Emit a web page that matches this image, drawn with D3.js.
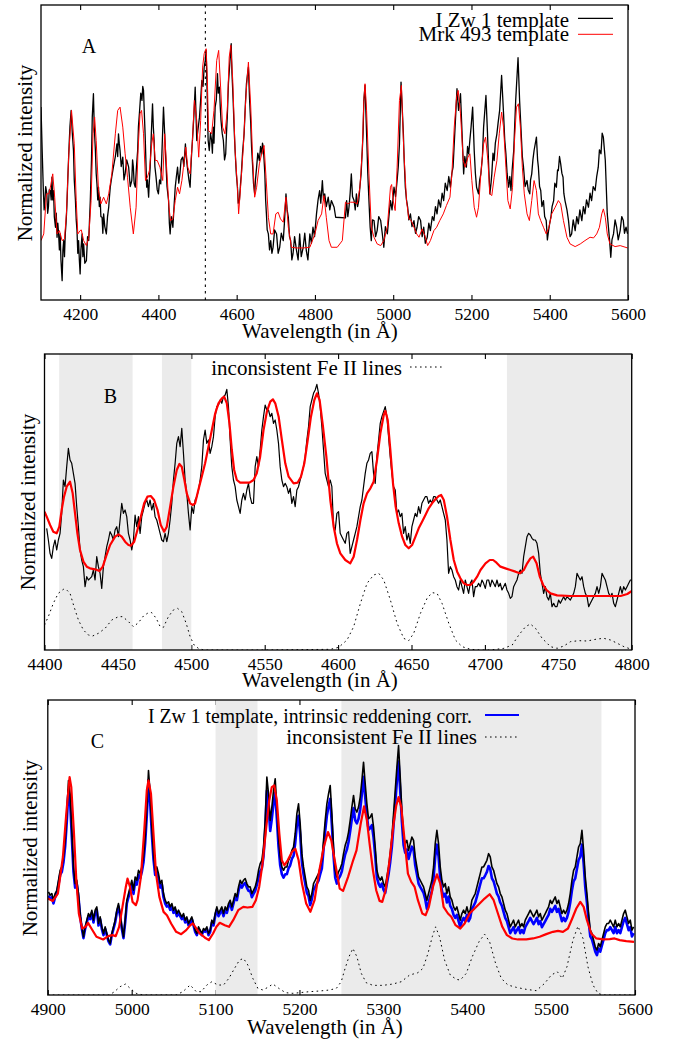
<!DOCTYPE html>
<html>
<head>
<meta charset="utf-8">
<script src="https://cdn.jsdelivr.net/npm/d3@7"></script>
<style>
  html, body { margin: 0; padding: 0; background: #fff; }
  svg { display: block; }
</style>
</head>
<body>
<script>
// ---------------------------------------------------------------------------
// Fe II template comparison, three panels (A, B, C).
// Fluxes are normalized intensities in arbitrary units (0 = panel floor).
// ---------------------------------------------------------------------------

// Panel A: 4100-5600 A, I Zw 1 and Mrk 493 templates  [wavelength, flux]
const izw1A = [[4100,578],[4103,448],[4106,328],[4108,270],[4110,298],[4112,340],[4115,318],[4117,260],[4119,278],[4121,330],[4124,328],[4126,300],[4128,368],[4130,300],[4132,328],[4134,250],[4137,218],[4139,260],[4141,188],[4143,230],[4145,198],[4147,150],[4149,198],[4151,120],[4154,58],[4156,150],[4158,178],[4160,130],[4162,198],[4164,230],[4166,278],[4169,380],[4172,468],[4174,520],[4177,568],[4180,500],[4183,448],[4185,360],[4188,298],[4190,240],[4192,208],[4194,140],[4196,178],[4198,120],[4200,78],[4202,150],[4205,198],[4207,130],[4209,168],[4212,110],[4216,118],[4219,190],[4222,178],[4224,240],[4226,298],[4229,420],[4231,548],[4234,618],[4236,520],[4239,448],[4241,380],[4243,348],[4245,300],[4247,338],[4249,280],[4251,308],[4253,250],[4256,248],[4258,200],[4260,258],[4263,220],[4267,198],[4270,250],[4273,278],[4275,310],[4277,338],[4281,370],[4285,398],[4290,430],[4294,468],[4296,430],[4298,498],[4300,470],[4302,448],[4305,400],[4309,428],[4312,360],[4315,378],[4319,420],[4324,398],[4328,340],[4332,358],[4334,420],[4336,398],[4338,350],[4341,338],[4344,400],[4347,448],[4349,520],[4352,568],[4355,620],[4358,598],[4360,640],[4362,628],[4364,560],[4366,498],[4368,420],[4370,338],[4372,360],[4375,308],[4377,360],[4379,398],[4382,500],[4385,588],[4387,520],[4389,478],[4391,400],[4394,368],[4397,330],[4400,318],[4403,360],[4406,348],[4409,440],[4413,578],[4416,500],[4419,418],[4422,340],[4426,298],[4428,230],[4430,198],[4433,250],[4437,218],[4440,280],[4443,338],[4446,370],[4449,398],[4452,350],[4455,378],[4458,420],[4462,428],[4465,400],[4469,468],[4471,430],[4474,398],[4478,360],[4481,338],[4484,420],[4488,498],[4491,560],[4494,638],[4496,560],[4498,478],[4501,510],[4505,548],[4508,600],[4511,658],[4514,640],[4517,698],[4520,720],[4522,748],[4525,598],[4527,480],[4530,448],[4533,500],[4536,478],[4538,440],[4540,518],[4542,470],[4545,578],[4548,600],[4551,678],[4553,620],[4556,638],[4558,580],[4560,538],[4563,500],[4566,478],[4569,420],[4572,438],[4574,500],[4576,548],[4579,650],[4583,718],[4586,768],[4588,680],[4591,598],[4594,500],[4596,448],[4599,380],[4602,338],[4604,290],[4607,298],[4610,350],[4612,378],[4615,440],[4619,498],[4622,580],[4625,648],[4628,680],[4630,698],[4633,600],[4636,528],[4638,460],[4641,398],[4643,350],[4646,318],[4648,360],[4651,398],[4654,440],[4658,418],[4661,460],[4664,438],[4666,470],[4668,458],[4670,420],[4672,378],[4674,300],[4676,258],[4678,210],[4681,198],[4684,150],[4687,178],[4690,140],[4693,158],[4697,210],[4702,198],[4706,140],[4710,158],[4714,200],[4719,178],[4722,230],[4726,318],[4729,270],[4732,248],[4735,190],[4738,178],[4741,120],[4744,138],[4748,190],[4753,148],[4757,120],[4761,198],[4765,130],[4770,158],[4774,200],[4778,148],[4782,120],[4787,198],[4791,170],[4795,218],[4799,190],[4804,258],[4808,300],[4812,328],[4815,290],[4819,358],[4822,300],[4825,318],[4829,280],[4834,308],[4838,270],[4842,298],[4849,278],[4853,248],[4878,246],[4881,298],[4884,250],[4887,278],[4890,320],[4893,378],[4896,310],[4900,298],[4903,270],[4906,318],[4909,280],[4912,298],[4915,340],[4918,378],[4923,498],[4925,598],[4928,643],[4932,498],[4935,380],[4938,298],[4941,220],[4944,178],[4947,240],[4951,238],[4955,190],[4959,208],[4963,250],[4968,238],[4972,200],[4976,158],[4980,220],[4985,198],[4989,250],[4993,298],[4997,270],[5002,338],[5006,310],[5010,358],[5013,400],[5016,468],[5020,653],[5026,498],[5028,420],[5031,338],[5034,300],[5037,278],[5040,240],[5044,258],[5048,220],[5053,238],[5057,200],[5061,218],[5065,250],[5070,238],[5074,190],[5078,218],[5082,170],[5087,188],[5091,230],[5095,208],[5100,250],[5104,238],[5108,280],[5112,258],[5116,300],[5121,278],[5125,320],[5129,298],[5133,350],[5138,328],[5142,370],[5146,338],[5150,380],[5153,398],[5159,538],[5163,633],[5167,568],[5172,618],[5176,498],[5180,378],[5183,430],[5187,398],[5190,460],[5193,438],[5196,480],[5199,518],[5203,578],[5207,448],[5210,380],[5213,338],[5218,318],[5221,360],[5224,378],[5228,430],[5231,518],[5237,613],[5241,498],[5244,400],[5247,318],[5250,350],[5252,378],[5255,440],[5258,418],[5261,470],[5265,498],[5268,530],[5272,568],[5277,673],[5282,558],[5285,480],[5288,438],[5291,380],[5295,338],[5298,370],[5301,328],[5304,390],[5308,448],[5313,598],[5319,726],[5323,598],[5328,478],[5330,430],[5333,398],[5337,340],[5342,358],[5345,330],[5349,318],[5351,360],[5354,378],[5357,420],[5360,448],[5366,488],[5369,420],[5371,398],[5374,340],[5377,328],[5380,280],[5384,298],[5387,250],[5391,238],[5394,180],[5397,208],[5400,230],[5403,248],[5406,280],[5410,298],[5413,350],[5417,338],[5420,390],[5422,388],[5425,430],[5428,408],[5431,380],[5434,368],[5436,320],[5439,298],[5444,270],[5448,238],[5452,190],[5456,198],[5460,240],[5465,208],[5469,250],[5473,228],[5477,270],[5482,238],[5486,280],[5490,258],[5494,300],[5499,278],[5503,320],[5507,298],[5511,340],[5516,328],[5520,370],[5524,398],[5527,450],[5531,438],[5534,500],[5537,488],[5542,418],[5547,258],[5553,178],[5556,128],[5559,180],[5563,198],[5567,240],[5571,218],[5575,180],[5580,208],[5584,250],[5588,238],[5591,200],[5595,218],[5599,198]];

const mrk493A = [[4100,178],[4107,198],[4114,318],[4120,318],[4124,338],[4130,378],[4135,308],[4141,198],[4147,208],[4154,178],[4160,183],[4165,258],[4171,438],[4178,568],[4185,468],[4190,298],[4194,198],[4200,208],[4203,210],[4209,178],[4216,163],[4222,188],[4228,298],[4233,498],[4237,548],[4241,478],[4247,328],[4253,288],[4260,308],[4267,288],[4273,318],[4281,378],[4290,498],[4296,568],[4302,578],[4309,518],[4315,438],[4321,368],[4328,278],[4336,198],[4343,278],[4348,448],[4353,558],[4357,568],[4362,498],[4367,358],[4372,368],[4377,388],[4383,468],[4387,498],[4392,418],[4397,418],[4404,398],[4411,358],[4416,498],[4421,398],[4427,278],[4431,238],[4437,243],[4443,298],[4449,338],[4454,318],[4460,358],[4464,398],[4470,458],[4475,398],[4481,378],[4487,478],[4492,598],[4498,538],[4503,428],[4508,538],[4513,698],[4517,738],[4522,753],[4525,668],[4528,508],[4536,498],[4542,568],[4549,718],[4554,748],[4559,638],[4564,518],[4570,498],[4576,568],[4581,728],[4585,763],[4590,658],[4596,448],[4602,338],[4605,258],[4610,338],[4617,458],[4624,618],[4630,713],[4636,578],[4641,418],[4646,308],[4651,338],[4658,408],[4664,438],[4670,463],[4675,368],[4681,248],[4687,198],[4693,198],[4700,258],[4706,263],[4712,243],[4719,233],[4726,308],[4732,218],[4740,158],[4753,156],[4770,156],[4787,158],[4800,198],[4808,238],[4817,258],[4823,313],[4829,248],[4836,178],[4842,158],[4857,158],[4870,178],[4878,293],[4884,288],[4891,293],[4900,293],[4908,288],[4915,338],[4921,448],[4925,598],[4928,648],[4932,568],[4938,378],[4944,218],[4951,188],[4959,168],[4968,163],[4976,178],[4985,218],[4993,338],[4996,346],[5000,298],[5005,268],[5010,398],[5016,598],[5021,643],[5027,448],[5034,298],[5040,243],[5046,238],[5053,218],[5060,198],[5066,188],[5074,213],[5081,193],[5088,163],[5095,178],[5104,208],[5111,218],[5119,238],[5128,258],[5136,283],[5145,308],[5150,378],[5156,518],[5162,608],[5166,628],[5172,558],[5179,418],[5184,398],[5191,428],[5196,438],[5201,358],[5207,278],[5213,248],[5218,278],[5224,378],[5231,468],[5236,488],[5242,418],[5247,318],[5252,313],[5258,368],[5265,418],[5271,498],[5277,563],[5282,518],[5288,398],[5293,298],[5299,273],[5305,338],[5310,478],[5315,578],[5320,588],[5325,518],[5330,398],[5335,318],[5342,258],[5348,238],[5354,298],[5360,358],[5366,328],[5371,258],[5377,238],[5384,218],[5391,198],[5398,218],[5405,258],[5414,278],[5422,298],[5428,288],[5435,238],[5444,188],[5452,168],[5465,160],[5478,168],[5490,178],[5503,188],[5512,186],[5520,198],[5527,218],[5533,258],[5537,273],[5542,248],[5547,198],[5554,168],[5567,160],[5580,163],[5599,156]];

const lineMarkerA = 4520;
const ticksA = [4200, 4400, 4600, 4800, 5000, 5200, 5400, 5600];

// Panel B: 4400-4800 A. I Zw 1 spectrum on a linear grid (start, step in A)
const izw1BStart = 4401.5;
const izw1BStep = 1.136;
const izw1BFlux = [365,330,290,275,310,330,300,330,350,410,510,490,550,605,570,560,530,500,430,370,300,270,250,190,220,210,215,220,240,210,280,250,230,185,250,280,310,330,355,345,330,360,370,340,390,440,410,420,400,350,330,300,330,405,370,400,350,400,420,440,450,430,450,420,440,400,390,370,350,330,325,350,325,350,390,440,510,560,620,640,610,665,590,510,470,410,360,430,410,450,460,480,510,550,630,660,620,630,590,610,640,700,730,735,750,740,760,765,782,730,630,550,510,490,450,430,410,450,470,450,480,500,460,440,440,550,580,550,600,660,700,735,720,720,700,710,680,690,660,620,550,510,490,500,490,470,485,440,460,430,480,490,510,530,550,580,630,670,730,750,770,780,797,770,730,670,600,530,510,490,
510,490,370,360,410,415,350,340,330,320,350,355,290,310,330,350,370,400,430,450,490,530,560,570,590,595,530,500,580,630,680,700,715,730,700,640,580,530,490,480,410,420,400,410,350,370,330,350,320,370,390,410,400,430,410,440,450,460,460,440,450,440,460,460,450,440,450,430,410,390,330,230,250,240,220,210,190,180,210,190,170,210,190,170,200,210,160,190,190,200,190,210,200,185,210,210,190,210,200,190,210,190,200,180,190,200,180,170,155,160,190,200,210,230,240,230,280,310,340,350,345,335,330,330,320,290,230,200,170,190,160,150,170,130,140,130,130,150,140,150,160,150,160,155,150,160,170,190,230,220,210,220,190,170,160,130,140,150,160,170,190,170,190,230,220,210,190,170,160,170,140,130,150,170,190,170,190,180,190,200,210,210];

const mrk493B = [[4400,415],[4401.5,400],[4403.8,375],[4406,355],[4408.3,350],[4410.1,370],[4411.7,420],[4413.3,460],[4415.1,490],[4417.4,505],[4419.2,470],[4420.8,410],[4422.4,350],[4424.2,300],[4426.5,265],[4428.8,250],[4431,245],[4434.4,242],[4437.4,237],[4439.7,250],[4441.9,280],[4444.7,315],[4448.1,340],[4450.4,347],[4452.6,340],[4454.9,325],[4457.2,315],[4458.8,313],[4461.1,325],[4463.3,360],[4465.6,400],[4467.9,440],[4470.1,460],[4472.4,462],[4474.7,450],[4477,420],[4479.2,375],[4481.5,355],[4483.3,370],[4485.6,430],[4487.8,490],[4490.1,540],[4491.9,558],[4493.5,550],[4495.3,510],[4496.9,470],[4499.2,440],[4501,435],[4502.6,440],[4504.8,480],[4507.1,520],[4509.4,560],[4511.7,610],[4514,660],[4516.3,710],[4518.5,740],[4520.8,755],[4522.4,760],[4524.2,740],[4526,680],[4527.6,600],[4529.2,540],[4531,510],[4533.3,502],[4536.7,502],[4539.6,502],[4542.4,510],[4544.6,530],[4546.9,580],[4549.2,660],[4551.5,715],[4553.8,745],[4555.6,752],[4557.2,740],[4559.5,700],[4561.7,630],[4564,560],[4566.3,520],[4569.7,500],[4572.4,502],[4574.7,520],[4577,560],[4579.3,630],[4581.5,700],[4583.8,750],[4585.6,770],[4587.4,750],[4589.7,670],[4592,580],[4594.7,450],[4597,370],[4599.2,320],[4601.5,290],[4604.9,270],[4608.3,260],[4610.6,280],[4612.9,330],[4615.2,390],[4617.4,440],[4619.7,470],[4622,485],[4624.2,505],[4626.5,570],[4628.8,650],[4631.1,705],[4632.2,717],[4633.8,690],[4635.6,600],[4637.4,500],[4639.2,430],[4641.3,380],[4643.6,340],[4645.8,315],[4648.1,305],[4650.4,315],[4652.7,340],[4654.9,365],[4657.2,385],[4659.5,405],[4661.7,425],[4664,440],[4666.3,452],[4668.6,462],[4670.2,465],[4672,450],[4674.2,400],[4676.5,330],[4678.8,270],[4681.1,235],[4683.3,215],[4685.6,200],[4687.9,195],[4690.2,195],[4692.4,205],[4694.7,220],[4697,240],[4700.4,260],[4703.3,270],[4705.6,270],[4707.9,262],[4710.6,250],[4714,245],[4717.4,240],[4720.8,235],[4723.8,230],[4726.5,240],[4728.8,260],[4731,275],[4732.9,280],[4735.2,260],[4737.4,220],[4739.7,195],[4742,180],[4744.7,170],[4749.2,164],[4758.3,162],[4772,162],[4785.6,162],[4792.4,162],[4797,168],[4800.4,178]];

const feIIB = [[4400,75],[4402.6,100],[4406,140],[4409.4,170],[4412.8,182],[4414.7,182],[4417.4,170],[4420.1,130],[4423.1,90],[4426.5,60],[4429.9,45],[4432.8,42],[4436.7,50],[4441.3,65],[4445.8,90],[4450.4,100],[4453.3,100],[4457.2,85],[4460.6,70],[4464,82],[4467.4,102],[4470.8,112],[4473.1,112],[4476.1,95],[4478.8,70],[4481,68],[4484.4,100],[4487.8,120],[4490.6,125],[4493.5,115],[4496.5,80],[4499.2,40],[4501.9,15],[4504.8,5],[4508.3,0],[4550,0],[4594.7,2],[4600.4,8],[4606.1,30],[4610.6,70],[4615.2,140],[4619.7,200],[4624.2,225],[4627.7,230],[4631.1,210],[4635.6,150],[4640.2,80],[4644.7,35],[4648.1,28],[4651.5,50],[4656.1,110],[4660.6,155],[4664,172],[4667.4,170],[4670.8,140],[4675.4,80],[4679.9,30],[4684.5,10],[4690.2,2],[4697,0],[4703.8,0],[4712.9,5],[4718.6,15],[4723.1,45],[4727.7,70],[4731,78],[4734.5,65],[4739,35],[4744.7,10],[4749.2,5],[4753.8,12],[4758.3,25],[4764,28],[4769.7,27],[4776.5,33],[4781,35],[4785.6,30],[4790.2,20],[4794.7,10],[4799.2,3]];

const bandsB = [[4410, 4460], [4480, 4500], [4715, 4800]];
const ticksB = [4400, 4450, 4500, 4550, 4600, 4650, 4700, 4750, 4800];

// Panel C: 4900-5600 A. I Zw 1 template and its intrinsic-reddening-corrected version
const izw1CStart = 4900.8;
const izw1CStep = 1.9873;
const izw1CFlux = [310,300,305,285,305,315,345,375,385,415,465,545,645,605,495,385,335,345,305,245,205,175,205,225,245,235,255,225,255,265,215,235,205,185,205,185,165,155,185,205,225,255,275,245,205,175,225,285,305,325,345,315,355,345,375,365,385,415,475,565,675,605,505,425,375,385,365,335,345,305,285,275,280,265,275,255,265,245,255,245,235,245,225,235,215,225,235,215,195,185,205,195,185,200,195,205,185,195,225,215,245,265,245,255,265,245,265,255,275,285,265,285,305,295,325,345,335,345,350,335,325,325,305,315,325,345,375,395,405,445,525,655,605,525,565,615,650,565,475,415,385,375,385,385,405,415,435,445,485,545,575,515,425,385,355,325,315,285,305,335,345,355,365,385,405,465,525,575,605,630,545,445,375,355,370,
380,395,425,450,465,490,525,565,600,560,550,565,595,645,700,635,575,530,535,545,505,445,375,355,345,355,335,325,355,385,425,475,545,615,685,750,655,555,480,455,465,435,455,475,465,415,385,355,345,335,325,305,285,305,325,345,385,455,495,455,385,345,325,335,305,325,295,285,265,255,265,245,225,245,255,245,265,245,255,285,295,305,325,345,365,385,385,395,405,425,415,385,375,355,335,325,305,295,275,255,245,225,205,215,225,205,215,225,205,215,205,225,235,245,255,245,235,245,255,235,245,225,235,245,255,265,285,275,285,295,275,285,265,245,255,245,255,275,305,345,375,385,415,445,455,495,435,355,305,245,195,185,165,145,135,155,145,165,185,205,215,215,225,215,205,225,205,215,205,225,245,255,235,215,225,195,205];

const izw1CDered = [299,290,294,275,294,304,332,361,370,399,446,522,617,579,475,370,323,332,294,237,199,171,199,218,237,228,247,218,247,256,209,228,199,180,199,180,161,152,180,199,218,247,266,237,199,171,218,275,294,313,332,304,342,332,361,351,370,399,456,541,646,579,484,408,361,370,351,323,332,294,275,266,270,256,266,247,256,237,247,237,228,237,218,228,209,218,228,209,190,180,199,190,180,194,190,199,180,190,218,209,237,256,237,247,256,237,256,247,266,275,256,275,294,285,313,332,323,332,337,323,313,313,294,304,313,332,353,372,381,418,493,614,567,493,530,576,609,530,446,390,363,353,363,363,381,390,409,418,456,511,539,483,400,363,335,307,297,270,288,316,325,335,344,363,381,437,493,539,567,590,511,418,353,335,349,
358,372,400,423,437,460,493,530,562,525,516,530,558,604,656,595,539,497,502,511,474,418,353,335,325,335,316,307,335,363,400,446,511,576,642,702,614,521,451,428,437,409,428,446,437,390,363,335,325,316,307,288,259,278,296,314,351,416,452,416,351,314,296,305,278,296,268,259,241,232,241,222,204,222,232,222,241,222,232,259,268,278,296,314,333,351,351,360,370,388,379,351,342,324,305,296,278,268,250,232,222,204,186,195,204,186,195,204,186,195,186,204,213,222,232,222,213,222,232,213,222,204,213,222,232,241,259,250,259,268,250,259,241,222,232,222,232,250,278,314,342,351,379,406,416,452,397,324,278,222,176,167,149,130,120,140,130,149,167,186,195,195,204,195,186,204,186,195,186,204,222,232,213,195,204,176,186];

const mrk493C = [[4900,290],[4906,283],[4912,305],[4918,415],[4922,545],[4926,655],[4928,625],[4931,495],[4934,345],[4937,245],[4941,200],[4945,205],[4948,217],[4952,200],[4958,175],[4966,167],[4972,177],[4977,180],[4981,177],[4985,205],[4989,265],[4993,325],[4995,350],[4998,325],[5001,280],[5005,270],[5007,285],[5011,355],[5015,495],[5018,615],[5020,645],[5023,605],[5026,485],[5029,365],[5033,295],[5038,250],[5042,240],[5047,215],[5053,190],[5059,183],[5065,195],[5070,210],[5073,215],[5077,200],[5081,185],[5087,173],[5092,165],[5097,185],[5101,205],[5105,217],[5111,210],[5116,205],[5121,225],[5127,255],[5133,265],[5138,263],[5144,265],[5148,285],[5152,325],[5156,395],[5160,495],[5164,585],[5167,625],[5170,630],[5173,585],[5176,485],[5179,405],[5182,390],[5186,405],[5191,430],[5195,440],[5199,405],[5203,335],[5208,275],[5213,250],[5218,285],[5223,365],[5229,445],[5234,490],[5238,465],[5242,405],[5248,320],[5252,313],[5258,355],[5264,405],[5268,435],[5273,515],[5277,567],[5280.4,525],[5283.6,455],[5287.6,375],[5291.5,315],[5295.5,283],[5298.7,280],[5302.7,315],[5307.4,405],[5312.2,515],[5315.4,570],[5318.2,595],[5321.4,565],[5325.3,465],[5329.3,365],[5333.3,340],[5337.3,325],[5341.2,285],[5346.4,245],[5350.4,240],[5354.3,265],[5359.1,325],[5363.9,363],[5367.9,335],[5371.8,265],[5377,245],[5381,235],[5386.1,210],[5391.7,200],[5396.9,215],[5402.8,245],[5408.8,260],[5414.8,275],[5420.7,290],[5426.7,303],[5431.5,285],[5436.6,245],[5441.8,205],[5447.3,180],[5453.7,170],[5460.5,167],[5470.4,167],[5478.4,170],[5486.3,175],[5494.2,183],[5502.2,190],[5508.2,193],[5514.1,190],[5520.1,200],[5525.2,230],[5530,260],[5534.8,280],[5538.8,265],[5542.7,225],[5547.9,185],[5553.9,170],[5561.8,167],[5569.8,168],[5575.7,170],[5581.7,165],[5589.6,162],[5598.8,160]];

const feIIC = [[4900,0],[4973.5,0],[4979.5,10],[4986.2,25],[4992.6,33],[4998.2,20],[5005.3,5],[5013.3,0],[5053,0],[5061,10],[5069.7,30],[5077,10],[5082.8,10],[5089.6,30],[5095.6,40],[5102.7,30],[5109.5,30],[5115.8,50],[5122.6,80],[5128.5,105],[5133.3,110],[5138.5,90],[5144.4,50],[5150.4,20],[5156.4,15],[5162.3,23],[5168.3,33],[5175.4,20],[5183.4,7],[5192.1,5],[5200.1,7],[5212,10],[5223.9,12],[5235.9,15],[5244,20],[5249.8,40],[5253.8,75],[5259,115],[5263.7,140],[5268.5,115],[5273.7,65],[5279.6,37],[5287.6,29],[5299.5,29],[5311.4,33],[5321.4,40],[5331.3,60],[5341.2,67],[5347.2,80],[5353.2,125],[5358.3,175],[5362.3,205],[5367,175],[5373,105],[5379.8,60],[5387,47],[5391.7,45],[5398.9,65],[5406,115],[5414,160],[5420.7,183],[5426.7,160],[5433.8,95],[5440.6,50],[5448.5,30],[5458.5,23],[5470.4,17],[5482.3,13],[5492.3,35],[5500.2,60],[5507.4,70],[5513.3,50],[5518.9,85],[5526,165],[5532,207],[5538,170],[5543.9,85],[5549.9,30],[5555.9,5],[5561.8,0],[5600,0]];

const bandsC = [[5100, 5150], [5250, 5560]];
const ticksC = [4900, 5000, 5100, 5200, 5300, 5400, 5500, 5600];

// ---------------------------------------------------------------------------
const FONT = "'Liberation Serif', 'Times New Roman', Times, serif";
const W = 676, H = 1041;

const svg = d3.select("body").append("svg")
  .attr("width", W).attr("height", H)
  .attr("viewBox", `0 0 ${W} ${H}`)
  .style("background", "#fff");

// spectrum on a linear wavelength grid -> [wavelength, flux] pairs
function gridded(start, step, flux) {
  return flux.map((f, i) => [start + i * step, f]);
}

function addText(g, x, y, str, size, anchor, rotate) {
  const t = g.append("text")
    .attr("font-family", FONT)
    .attr("font-size", size)
    .attr("fill", "#000")
    .attr("text-anchor", anchor || "start")
    .text(str);
  if (rotate) t.attr("transform", `translate(${x},${y}) rotate(${rotate})`);
  else t.attr("x", x).attr("y", y);
  return t;
}

function drawPanel(cfg) {
  const b = cfg.box;
  const g = svg.append("g").attr("class", "panel-" + cfg.id);
  const x = d3.scaleLinear().domain(cfg.xDomain).range([b.left, b.right]);
  const y = d3.scaleLinear().domain([0, cfg.yMax]).range([b.bottom, b.top]);

  const clipId = "clip-" + cfg.id;
  svg.append("defs").append("clipPath").attr("id", clipId)
    .append("rect")
    .attr("x", b.left).attr("y", b.top)
    .attr("width", b.right - b.left).attr("height", b.bottom - b.top);

  // inward ticks on the bottom and top edges
  const axB = g.append("g").attr("transform", `translate(0,${b.bottom})`)
    .call(d3.axisBottom(x).tickValues(cfg.ticks).tickFormat(d3.format("d"))
      .tickSize(-5).tickPadding(7.5));
  const axT = g.append("g").attr("transform", `translate(0,${b.top})`)
    .call(d3.axisTop(x).tickValues(cfg.ticks).tickFormat("").tickSize(-5));
  [axB, axT].forEach(a => {
    a.select(".domain").remove();
    a.selectAll(".tick line").attr("stroke", "#000").attr("stroke-width", 1.1);
  });
  axB.selectAll(".tick text")
    .attr("font-family", FONT).attr("font-size", 17.5).attr("fill", "#000");

  // shaded wavelength windows
  g.append("g").selectAll("rect").data(cfg.bands || []).join("rect")
    .attr("x", d => x(d[0])).attr("width", d => x(d[1]) - x(d[0]))
    .attr("y", b.top).attr("height", b.bottom - b.top)
    .attr("fill", "#ebebeb");

  const line = d3.line().x(d => x(d[0])).y(d => y(d[1]));
  const curves = g.append("g").attr("clip-path", `url(#${clipId})`);

  if (cfg.marker !== undefined) {
    curves.append("line")
      .attr("x1", x(cfg.marker)).attr("x2", x(cfg.marker))
      .attr("y1", b.top).attr("y2", b.bottom)
      .attr("stroke", "#000").attr("stroke-width", 1.1)
      .attr("stroke-dasharray", "2.5,4");
  }

  cfg.series.forEach(s => {
    curves.append("path").datum(s.data)
      .attr("fill", "none")
      .attr("stroke", s.color)
      .attr("stroke-width", s.width)
      .attr("stroke-linejoin", "round")
      .attr("stroke-dasharray", s.dash || null)
      .attr("d", line);
  });

  // frame
  g.append("rect")
    .attr("x", b.left).attr("y", b.top)
    .attr("width", b.right - b.left).attr("height", b.bottom - b.top)
    .attr("fill", "none").attr("stroke", "#000").attr("stroke-width", 1.3);

  // labels
  addText(g, cfg.xTitle[0], cfg.xTitle[1], "Wavelength (in Å)", 21, "middle");
  addText(g, cfg.yTitle[0], cfg.yTitle[1], "Normalized intensity", 21, "middle", -90);
  addText(g, cfg.letter[0], cfg.letter[1], cfg.id, 20, "middle");

  // legend entries: text right-aligned, sample line to the right;
  // an optional left edge fits the entry to span [startX, textX]
  (cfg.legend || []).forEach(e => {
    const t = addText(g, e.textX, e.textY, e.label, e.size || 21, "end");
    if (e.startX !== undefined) {
      t.attr("textLength", e.textX - e.startX).attr("lengthAdjust", "spacingAndGlyphs");
    }
    g.append("line")
      .attr("x1", e.x1).attr("x2", e.x2).attr("y1", e.lineY).attr("y2", e.lineY)
      .attr("stroke", e.color).attr("stroke-width", e.width)
      .attr("stroke-dasharray", e.dash || null);
  });
}

const DOT = "1.6,3.4";

// Panel A
drawPanel({
  id: "A",
  box: { left: 41, right: 628, top: 5, bottom: 300 },
  xDomain: [4100, 5600], yMax: 884, ticks: ticksA,
  marker: lineMarkerA,
  series: [
    { data: izw1A, color: "#000", width: 1.3 },
    { data: mrk493A, color: "#ff0000", width: 1.0 }
  ],
  xTitle: [320, 338], yTitle: [32, 153], letter: [89, 53],
  legend: [
    { label: "I Zw 1 template", textX: 569, textY: 26.5, x1: 578, x2: 613, lineY: 18.3, color: "#000", width: 1.3 },
    { label: "Mrk 493 template", textX: 569, textY: 41, x1: 578, x2: 613, lineY: 34.3, color: "#ff0000", width: 1.0 }
  ]
});

// Panel B
drawPanel({
  id: "B",
  box: { left: 44.5, right: 631.7, top: 354, bottom: 650 },
  xDomain: [4400, 4800], yMax: 888, ticks: ticksB,
  bands: bandsB,
  series: [
    { data: feIIB, color: "#000", width: 1.0, dash: DOT },
    { data: gridded(izw1BStart, izw1BStep, izw1BFlux), color: "#000", width: 1.2 },
    { data: mrk493B, color: "#ff0000", width: 2.2 }
  ],
  xTitle: [320, 687], yTitle: [35, 502], letter: [110.5, 403],
  legend: [
    { label: "inconsistent Fe II lines", textX: 402, textY: 375, x1: 410, x2: 445, lineY: 367, color: "#000", width: 1.0, dash: DOT }
  ]
});

// Panel C
drawPanel({
  id: "C",
  box: { left: 47.8, right: 635, top: 700, bottom: 995 },
  xDomain: [4900, 5600], yMax: 887, ticks: ticksC,
  bands: bandsC,
  series: [
    { data: feIIC, color: "#000", width: 1.0, dash: DOT },
    { data: gridded(izw1CStart, izw1CStep, izw1CDered), color: "#0000ff", width: 2.6 },
    { data: gridded(izw1CStart, izw1CStep, izw1CFlux), color: "#000", width: 1.6 },
    { data: mrk493C, color: "#ff0000", width: 2.2 }
  ],
  xTitle: [325, 1034], yTitle: [37, 848], letter: [97.5, 748],
  legend: [
    { label: "I Zw 1 template, intrinsic reddening corr.", size: 20.5, startX: 148, textX: 472, textY: 722.5, x1: 485, x2: 519, lineY: 715, color: "#0000ff", width: 2.2 },
    { label: "inconsistent Fe II lines", textX: 477, textY: 743.5, x1: 485, x2: 519, lineY: 737, color: "#000", width: 1.0, dash: DOT }
  ]
});
</script>
</body>
</html>
